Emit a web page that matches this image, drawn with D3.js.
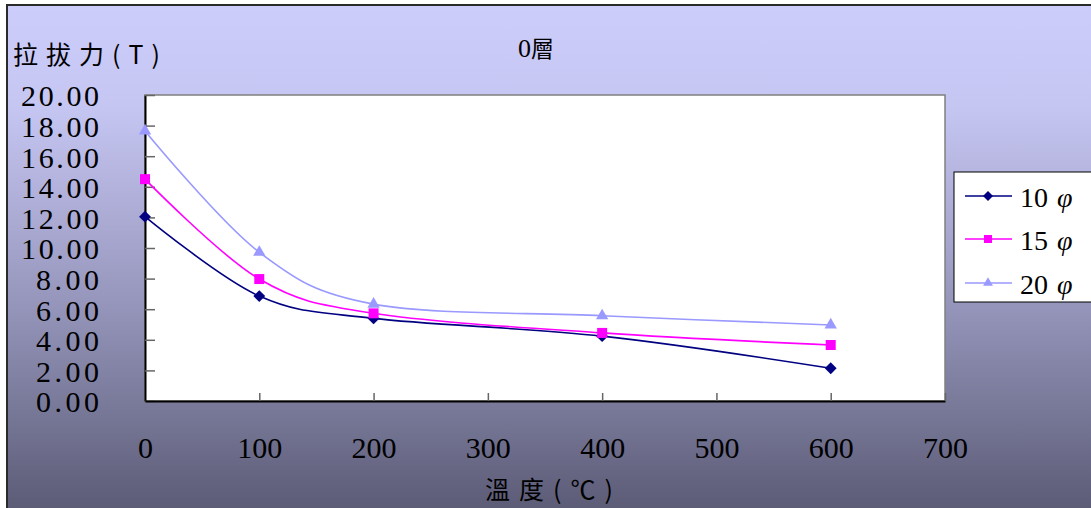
<!DOCTYPE html>
<html>
<head>
<meta charset="utf-8">
<script src="https://cdn.jsdelivr.net/npm/d3@7"></script>
<style>
  html, body { margin: 0; padding: 0; background: #fff; }
  svg { display: block; }
</style>
</head>
<body>
<svg id="chart" width="1091" height="508"></svg>
<script>
// Pull-out force vs temperature for three bar diameters (0 layer)
const temperatures = [0, 100, 200, 400, 600];
const seriesNames = ["10", "15", "20"];
const force10 = [12.05, 6.86, 5.40, 4.24, 2.14];
const force15 = [14.50, 7.97, 5.73, 4.45, 3.66];
const force20 = [17.65, 9.72, 6.33, 5.57, 4.97];
const xTicks = [0, 100, 200, 300, 400, 500, 600, 700];
const yTicks = [0, 2, 4, 6, 8, 10, 12, 14, 16, 18, 20];
const chartTitle = "0層";
const yTitle = "拉拔力(T)";
const xTitle = "溫度(℃)";

const seriesStyle = [
  { values: force10, color: "#000080", shape: "diamond" },
  { values: force15, color: "#ff00ff", shape: "square" },
  { values: force20, color: "#9999ff", shape: "triangle" }
];

const svg = d3.select("#chart");
const serif = "'Liberation Serif', 'Times New Roman', serif";
const cjk = "'Noto Sans CJK TC', 'Noto Sans CJK SC', sans-serif";

// Chart background with vertical gradient
const defs = svg.append("defs");
const grad = defs.append("linearGradient")
  .attr("id", "bg").attr("gradientUnits", "userSpaceOnUse")
  .attr("x1", 0).attr("y1", 5).attr("x2", 0).attr("y2", 508);
grad.append("stop").attr("offset", "0%").attr("stop-color", "#cdcdfb");
grad.append("stop").attr("offset", "20%").attr("stop-color", "#c6c6f3");
grad.append("stop").attr("offset", "60%").attr("stop-color", "#9595bb");
grad.append("stop").attr("offset", "100%").attr("stop-color", "#5c5c77");

svg.append("rect")
  .attr("x", 7).attr("y", 5).attr("width", 1200).attr("height", 600)
  .attr("fill", "url(#bg)")
  .attr("stroke", "#2a2a2a").attr("stroke-width", 2);

// Plot area
const plot = { left: 145, right: 945, top: 95, bottom: 401 };
const x = d3.scaleLinear().domain([0, 700]).range([plot.left, plot.right]);
const y = d3.scaleLinear().domain([0, 20]).range([plot.bottom, plot.top]);

svg.append("rect")
  .attr("x", plot.left).attr("y", plot.top)
  .attr("width", plot.right - plot.left).attr("height", plot.bottom - plot.top)
  .attr("fill", "#fff").attr("stroke", "#808080").attr("stroke-width", 1.5);

// Y axis
const yAxis = svg.append("g")
  .attr("transform", `translate(${plot.left},0)`)
  .call(d3.axisLeft(y).tickValues(yTicks).tickFormat(d3.format(".2f"))
    .tickSizeInner(-10).tickSizeOuter(0).tickPadding(46));
yAxis.select(".domain").attr("stroke", "#000").attr("stroke-width", 2);
yAxis.selectAll(".tick line").attr("stroke", "#666").attr("stroke-width", 1.5);
yAxis.selectAll(".tick text")
  .attr("font-family", serif).attr("font-size", 30).attr("fill", "#000")
  .attr("dy", "0.36em")
  .attr("textLength", d => (d3.format(".2f")(d).length - 1) * 15 + 18)
  .attr("lengthAdjust", "spacing");

// X axis
const xAxis = svg.append("g")
  .attr("transform", `translate(0,${plot.bottom})`)
  .call(d3.axisBottom(x).tickValues(xTicks).tickFormat(d3.format("d"))
    .tickSizeInner(-8).tickSizeOuter(0).tickPadding(36));
xAxis.select(".domain").attr("stroke", "#000").attr("stroke-width", 2);
xAxis.selectAll(".tick line").attr("stroke", "#666").attr("stroke-width", 1.5)
  .filter(d => d === 0).remove();
xAxis.selectAll(".tick text")
  .attr("font-family", serif).attr("font-size", 30).attr("fill", "#000");

// Series lines
const line = d3.line()
  .x((d, i) => x(temperatures[i]))
  .y(d => y(d))
  .curve(d3.curveCatmullRom.alpha(0));

function symbolPath(shape) {
  if (shape === "diamond") return d3.symbol(d3.symbolSquare, 70)();
  if (shape === "square") return d3.symbol(d3.symbolSquare, 100)();
  return d3.symbol(d3.symbolTriangle, 66)();
}

seriesStyle.forEach(s => {
  svg.append("path")
    .datum(s.values)
    .attr("d", line)
    .attr("fill", "none")
    .attr("stroke", s.color)
    .attr("stroke-width", 1.6);
});

seriesStyle.forEach(s => {
  svg.append("g").selectAll("path")
    .data(s.values)
    .join("path")
    .attr("d", symbolPath(s.shape))
    .attr("transform", (d, i) =>
      `translate(${x(temperatures[i])},${y(d)})` + (s.shape === "diamond" ? " rotate(45)" : ""))
    .attr("fill", s.color);
});

// Titles
const title = svg.append("text")
  .attr("x", 518).attr("y", 57)
  .attr("font-family", serif).attr("font-size", 26).attr("fill", "#000")
  .text(chartTitle.slice(0, 1));
title.append("tspan").attr("font-family", cjk).attr("font-size", 23)
  .text(chartTitle.slice(1));

svg.append("text")
  .attr("x", 13).attr("y", 64)
  .attr("font-family", cjk).attr("font-size", 25).attr("fill", "#000")
  .attr("textLength", 147).attr("lengthAdjust", "spacing")
  .text(yTitle);

svg.append("text")
  .attr("x", 485).attr("y", 499)
  .attr("font-family", cjk).attr("font-size", 25).attr("fill", "#000")
  .attr("textLength", 128).attr("lengthAdjust", "spacing")
  .text(xTitle);

// Legend
const legend = svg.append("g");
legend.append("rect")
  .attr("x", 954).attr("y", 172).attr("width", 200).attr("height", 130)
  .attr("fill", "#fff").attr("stroke", "#000").attr("stroke-width", 1);

const rowY = [196, 239, 283];
seriesStyle.forEach((s, i) => {
  const g = legend.append("g").attr("transform", `translate(0,${rowY[i]})`);
  g.append("line").attr("x1", 965).attr("x2", 1012).attr("y1", 0).attr("y2", 0)
    .attr("stroke", s.color).attr("stroke-width", 1.6);
  g.append("path")
    .attr("d", symbolPath(s.shape) )
    .attr("transform", "translate(988,0)" + (s.shape === "diamond" ? " rotate(45) scale(0.85)" : " scale(0.8)"))
    .attr("fill", s.color);
  const t = g.append("text")
    .attr("x", 1020).attr("y", 11)
    .attr("font-family", serif).attr("font-size", 28).attr("fill", "#000")
    .text(seriesNames[i]);
  t.append("tspan").attr("dx", 9).attr("font-style", "italic").text("φ");
});
</script>
</body>
</html>
